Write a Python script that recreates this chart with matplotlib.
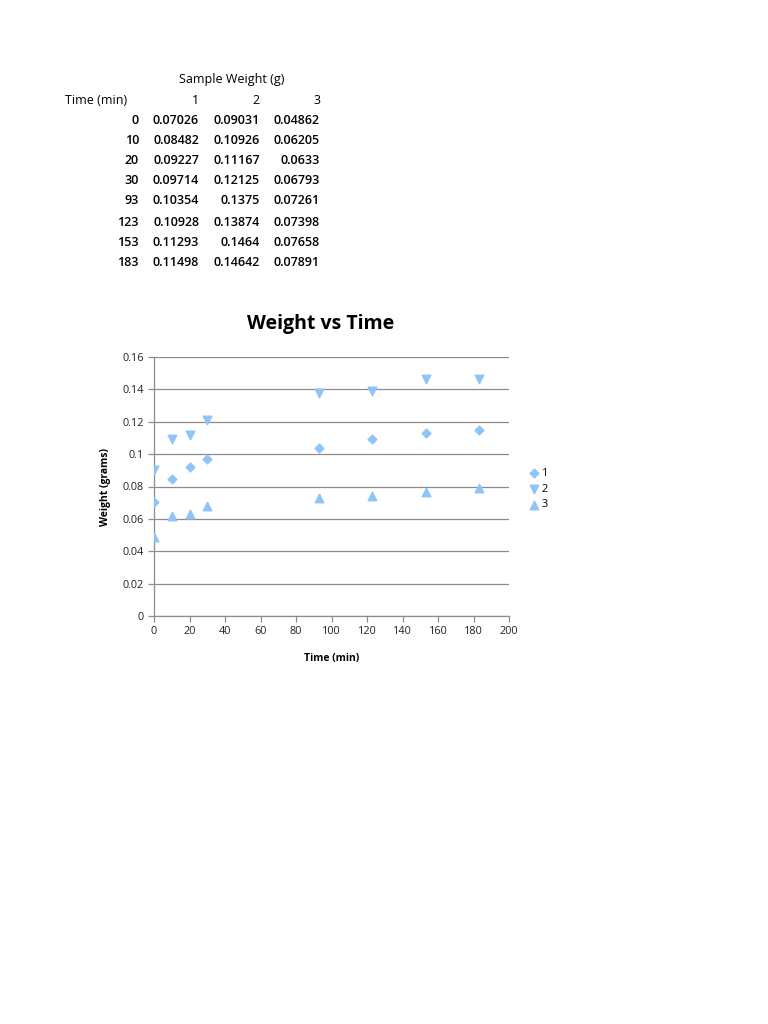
import matplotlib
matplotlib.use('Agg')
from matplotlib import pyplot as plt

# data from the sheet
times = [0, 10, 20, 30, 93, 123, 153, 183]
sample_1 = [0.07026, 0.08482, 0.09227, 0.09714, 0.10354, 0.10928, 0.11293, 0.11498]
sample_2 = [0.09031, 0.10926, 0.11167, 0.12125, 0.1375, 0.13874, 0.1464, 0.14642]
sample_3 = [0.04862, 0.06205, 0.0633, 0.06793, 0.07261, 0.07398, 0.07658, 0.07891]
series_names = ['1', '2', '3']
table_text = {
    '1': ['0.07026', '0.08482', '0.09227', '0.09714', '0.10354', '0.10928', '0.11293', '0.11498'],
    '2': ['0.09031', '0.10926', '0.11167', '0.12125', '0.1375', '0.13874', '0.1464', '0.14642'],
    '3': ['0.04862', '0.06205', '0.0633', '0.06793', '0.07261', '0.07398', '0.07658', '0.07891'],
}

plt.rcParams['font.family'] = ['Open Sans', 'DejaVu Sans']
W, H = 768, 1024
fig = plt.figure(figsize=(W / 100, H / 100), dpi=100)
fig.patch.set_facecolor('white')


def px(x, y):
    return x / W, 1 - y / H


# table at the top
tsize = 9
fig.text(*px(232, 80), 'Sample Weight (g)', ha='center', va='center', fontsize=tsize)
fig.text(*px(65, 100), 'Time (min)', ha='left', va='center', fontsize=tsize)
col_right = [139, 199, 260, 320]
for name, xr in zip(series_names, col_right[1:]):
    fig.text(*px(xr, 100), name, ha='right', va='center', fontsize=tsize)
row_y = [120, 140, 161, 181, 201, 222, 242, 263]
for i, t in enumerate(times):
    y = row_y[i]
    fig.text(*px(col_right[0], y), str(t), ha='right', va='center', fontsize=tsize, fontweight='semibold')
    for name, xr in zip(series_names, col_right[1:]):
        fig.text(*px(xr, y), table_text[name][i], ha='right', va='center',
                 fontsize=tsize, fontweight='semibold')

# chart
ax = fig.add_axes([154 / W, 1 - 616 / H, 355 / W, 259 / H])
color = '#8EC4F7'
ax.scatter(times, sample_1, marker='D', s=20, color=color, label=series_names[0], zorder=3)
ax.scatter(times, sample_2, marker='v', s=38, color=color, label=series_names[1], zorder=3)
ax.scatter(times, sample_3, marker='^', s=38, color=color, label=series_names[2], zorder=3)

ax.set_xlim(0, 200)
ax.set_ylim(0, 0.16)
ax.set_xticks(range(0, 201, 20))
ax.set_yticks([0, 0.02, 0.04, 0.06, 0.08, 0.1, 0.12, 0.14, 0.16])
ax.set_yticklabels(['0', '0.02', '0.04', '0.06', '0.08', '0.1', '0.12', '0.14', '0.16'])
ax.yaxis.grid(True, color='#8c8c8c', linewidth=0.9)
ax.set_axisbelow(True)
for side in ['top', 'right']:
    ax.spines[side].set_visible(False)
for side in ['left', 'bottom']:
    ax.spines[side].set_color('#8c8c8c')
    ax.spines[side].set_linewidth(0.9)
ax.tick_params(axis='both', colors='#8c8c8c', labelcolor='#222222', labelsize=7.8,
               length=4, width=0.9, direction='out')

# title sits centred on the whole chart box, a bit left of the plot area centre
ax.set_title('Weight vs Time', fontsize=14, fontweight='bold', pad=20, x=0.469)
ax.set_xlabel('Time (min)', fontsize=7.5, fontweight='bold', labelpad=11)
ax.set_ylabel('Weight (grams)', fontsize=7.5, fontweight='bold', labelpad=8)

ax.legend(loc='center left', bbox_to_anchor=(1.04, 0.49), frameon=False, fontsize=7.8,
          handletextpad=0.1, labelspacing=0.45, borderaxespad=0, handlelength=1.2)

fig.savefig('out.png', dpi=100, facecolor='white')
